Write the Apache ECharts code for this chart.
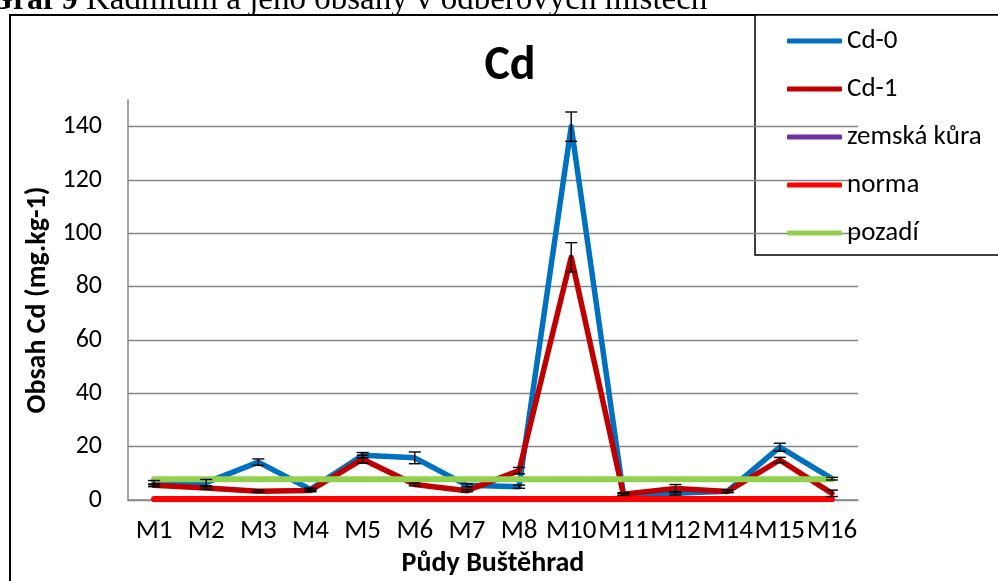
<!DOCTYPE html>
<html>
<head>
<meta charset="utf-8">
<script src="https://cdn.jsdelivr.net/npm/echarts@6/dist/echarts.min.js"></script>
<style>
html,body{margin:0;padding:0;background:#fff;}
#main{width:998px;height:581px;}
</style>
</head>
<body>
<div id="main"></div>
<script>
var categories = ['M1','M2','M3','M4','M5','M6','M7','M8','M10','M11','M12','M14','M15','M16'];
var cd0 = [6.5, 6.5, 14.2, 4.0, 16.8, 15.8, 5.5, 5.0, 140, 2.2, 2.5, 3.3, 19.8, 8.0];
var cd0Err = [0.8, 1.2, 1.2, 0.5, 1.0, 2.2, 0.6, 0.6, 5.5, 0.5, 0.6, 0.5, 1.5, 0.5];
var cd1 = [5.5, 4.5, 3.3, 3.6, 15.3, 5.8, 3.5, 11, 91, 2.2, 4.3, 3.2, 15, 2.5];
var cd1Err = [0.5, 0.5, 0.4, 0.5, 1.5, 0.5, 0.4, 1.2, 5.5, 0.4, 1.5, 0.4, 1.0, 1.2];
var kura = [0.1, 0.1, 0.1, 0.1, 0.1, 0.1, 0.1, 0.1, 0.1, 0.1, 0.1, 0.1, 0.1, 0.1];
var norma = [0.4, 0.4, 0.4, 0.4, 0.4, 0.4, 0.4, 0.4, 0.4, 0.4, 0.4, 0.4, 0.4, 0.4];
var pozadi = [7.8, 7.8, 7.8, 7.8, 7.8, 7.8, 7.8, 7.8, 7.8, 7.8, 7.8, 7.8, 7.8, 7.8];
var yTicks = [0, 20, 40, 60, 80, 100, 120, 140];

var FONT = 'Carlito, Lato, sans-serif';

function errData(vals, errs){
	var out = [];
	for (var i = 0; i < vals.length; i++) {
		out.push([i, vals[i] - errs[i], vals[i] + errs[i]]);
	}
	return out;
}

function renderErr(params, api){
	var lo = api.coord([api.value(0), api.value(1)]);
	var hi = api.coord([api.value(0), api.value(2)]);
	var w = 6;
	var st = {stroke:'#000', lineWidth:1.4};
	return {
		type:'group',
		children:[
			{type:'line', shape:{x1:hi[0], y1:hi[1], x2:lo[0], y2:lo[1]}, style:st},
			{type:'line', shape:{x1:hi[0]-w, y1:hi[1], x2:hi[0]+w, y2:hi[1]}, style:st},
			{type:'line', shape:{x1:lo[0]-w, y1:lo[1], x2:lo[0]+w, y2:lo[1]}, style:st}
		]
	};
}

function lineSeries(name, data, color, width){
	return {
		name:name,
		type:'line',
		data:data,
		symbol:'none',
		animation:false,
		color:color,
		lineStyle:{color:color, width:width, cap:'round', join:'round'}
	};
}

var myChart = echarts.init(document.getElementById('main'));
myChart.setOption({
	backgroundColor:'#fff',
	animation:false,
	textStyle:{fontFamily:FONT},
	grid:{left:128, right:140, top:100, bottom:81, outerBoundsMode:'none', containLabel:false},
	graphic:[
		{type:'rect', z:-10, shape:{x:10, y:15, width:1000, height:600}, style:{fill:'none', stroke:'#000', lineWidth:2}},
		{type:'rect', z:-9, shape:{x:755, y:15, width:260, height:240}, style:{fill:'#fff', stroke:'#000', lineWidth:1.5}},
		{type:'text', x:-12, y:17, style:{text:'Graf 9', font:'bold 32px "Liberation Serif", serif', fill:'#000', verticalAlign:'bottom'}},
		{type:'text', x:86, y:17, style:{text:'Kadmium a jeho obsahy v odběrových místech', font:'33px "Liberation Serif", serif', fill:'#000', verticalAlign:'bottom'}}
	],
	title:{
		text:'Cd',
		left:505,
		top:38,
		textAlign:'center',
		textStyle:{fontFamily:FONT, fontSize:48, fontWeight:'bold', color:'#000'}
	},
	legend:{
		orient:'vertical',
		left:782,
		top:21,
		icon:'roundRect',
		itemWidth:55,
		itemHeight:5,
		itemGap:18,
		data:['Cd-0','Cd-1','zemská kůra','norma','pozadí'],
		textStyle:{fontFamily:FONT, fontSize:27, color:'#000', lineHeight:30}
	},
	xAxis:{
		type:'category',
		data:categories,
		name:'Půdy Buštěhrad',
		nameLocation:'middle',
		nameGap:50,
		nameTextStyle:{fontFamily:FONT, fontSize:28, fontWeight:'bold', color:'#000'},
		axisLine:{lineStyle:{color:'#868686', width:1.5}},
		axisTick:{show:false},
		axisLabel:{fontFamily:FONT, fontSize:27, color:'#000', margin:18, interval:0}
	},
	yAxis:{
		type:'value',
		min:0,
		max:150,
		interval:20,
		name:'Obsah Cd (mg.kg-1)',
		nameLocation:'middle',
		nameRotate:90,
		nameGap:74,
		nameTextStyle:{fontFamily:FONT, fontSize:28, fontWeight:'bold', color:'#000'},
		axisLine:{show:true, lineStyle:{color:'#868686', width:1.5}},
		axisTick:{show:false},
		axisLabel:{fontFamily:FONT, fontSize:26, color:'#000', margin:26, showMaxLabel:false,
			formatter:function(v){ return yTicks.indexOf(v) >= 0 ? String(v) : ''; }},
		splitLine:{show:true, showMaxLine:false, lineStyle:{color:'#868686', width:1.3}}
	},
	series:[
		lineSeries('Cd-0', cd0, '#0070C0', 5.5),
		lineSeries('Cd-1', cd1, '#C00000', 5.5),
		lineSeries('zemská kůra', kura, '#7030A0', 5),
		lineSeries('norma', norma, '#FF0000', 6),
		lineSeries('pozadí', pozadi, '#92D050', 6),
		{type:'custom', name:'err0', renderItem:renderErr, data:errData(cd0, cd0Err), z:5, silent:true},
		{type:'custom', name:'err1', renderItem:renderErr, data:errData(cd1, cd1Err), z:5, silent:true}
	]
});
</script>
</body>
</html>
